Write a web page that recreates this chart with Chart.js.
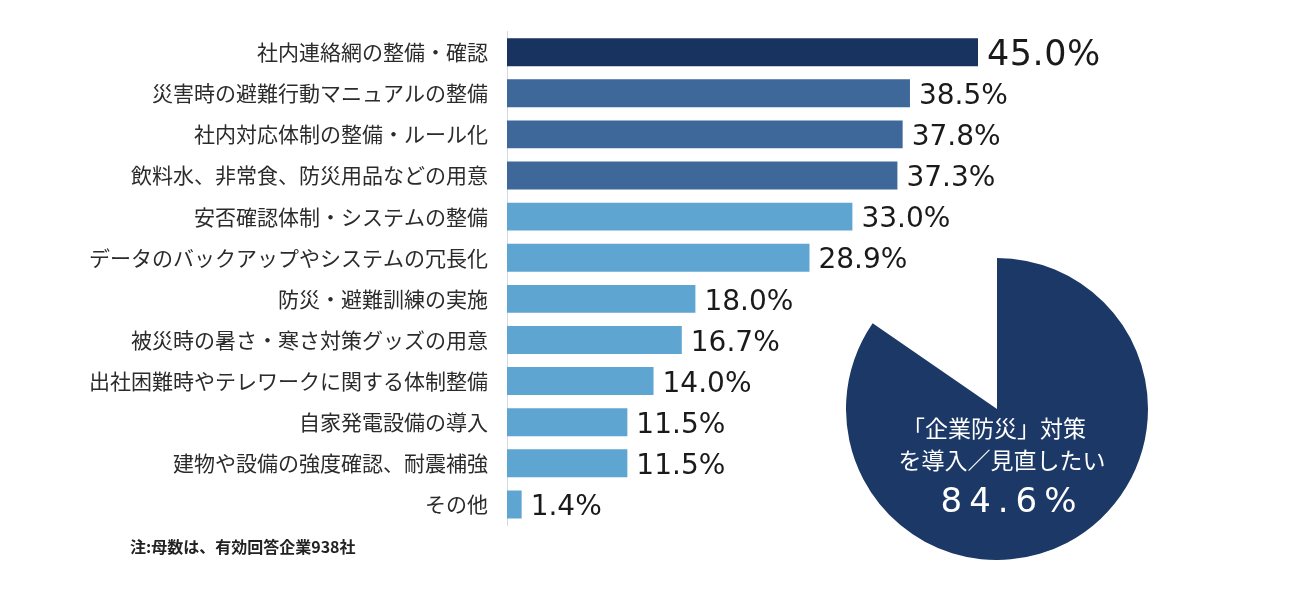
<!DOCTYPE html>
<html><head><meta charset="utf-8">
<script src="https://cdn.jsdelivr.net/npm/chart.js@4/dist/chart.umd.min.js"></script>
<style>
html,body{margin:0;padding:0;background:#fff;}
#wrap{position:relative;width:1300px;height:616px;overflow:hidden;}
#bar{position:absolute;left:0;top:0;}
#pie{position:absolute;left:846px;top:258px;}
</style>
</head><body>
<div id="wrap"><canvas id="bar" width="1300" height="616"></canvas><canvas id="pie" width="302" height="302"></canvas></div>
<script>
const categories = [
  '社内連絡網の整備・確認',
  '災害時の避難行動マニュアルの整備',
  '社内対応体制の整備・ルール化',
  '飲料水、非常食、防災用品などの用意',
  '安否確認体制・システムの整備',
  'データのバックアップやシステムの冗長化',
  '防災・避難訓練の実施',
  '被災時の暑さ・寒さ対策グッズの用意',
  '出社困難時やテレワークに関する体制整備',
  '自家発電設備の導入',
  '建物や設備の強度確認、耐震補強',
  'その他'
];
const values = [45.0, 38.5, 37.8, 37.3, 33.0, 28.9, 18.0, 16.7, 14.0, 11.5, 11.5, 1.4];
const valueLabels = ['45.0%', '38.5%', '37.8%', '37.3%', '33.0%', '28.9%', '18.0%', '16.7%', '14.0%', '11.5%', '11.5%', '1.4%'];
const barColors = ['#18335f', '#3d6899', '#3d6899', '#3d6899', '#5fa5d1', '#5fa5d1', '#5fa5d1', '#5fa5d1', '#5fa5d1', '#5fa5d1', '#5fa5d1', '#5fa5d1'];
const pieValues = [84.6, 15.4];
const pieColors = ['#1b3866', 'rgba(0,0,0,0)'];
const pieLines = ['「企業防災」対策', 'を導入／見直したい', '84.6%'];
const note = '注:母数は、有効回答企業938社';

const CJK = "'Noto Sans CJK JP', 'Noto Sans', sans-serif";
const NUM = "'DejaVu Sans', 'Noto Sans', sans-serif";
Chart.defaults.font.family = CJK;

const valuePlugin = {
  id: 'vals',
  afterDatasetsDraw(chart) {
    const ctx = chart.ctx;
    const meta = chart.getDatasetMeta(0);
    meta.data.forEach((bar, i) => {
      ctx.save();
      const big = i === 0;
      const size = big ? 35 : 28;
      ctx.font = size + "px " + NUM;
      ctx.letterSpacing = big ? '0.5px' : '0px';
      ctx.fillStyle = '#1a1a1a';
      ctx.textAlign = 'left';
      ctx.textBaseline = 'alphabetic';
      ctx.fillText(valueLabels[i], bar.x + 9, bar.y + 0.365 * size + 0.5);
      ctx.restore();
    });
    ctx.save();
    ctx.font = "bold 16px " + CJK;
    ctx.fillStyle = '#222';
    ctx.textAlign = 'left';
    ctx.textBaseline = 'middle';
    ctx.fillText(note, 130, 547);
    ctx.restore();
  }
};

new Chart(document.getElementById('bar'), {
  type: 'bar',
  data: {
    labels: categories,
    datasets: [{
      data: values,
      backgroundColor: barColors,
      borderWidth: 0,
      barPercentage: 0.68,
      categoryPercentage: 1.0
    }]
  },
  options: {
    indexAxis: 'y',
    responsive: false,
    animation: false,
    events: [],
    layout: { padding: { top: 27, bottom: 91, right: 165, left: 0 } },
    plugins: { legend: { display: false }, tooltip: { enabled: false } },
    scales: {
      x: { display: false, min: 0, max: 60 },
      y: {
        grid: { display: false, drawTicks: false },
        border: { display: true, color: '#d3dae2', width: 1 },
        ticks: { font: { size: 21, family: CJK }, color: '#2b2b2b', padding: 19 },
        afterFit(s) { s.width = 507; }
      }
    }
  },
  plugins: [valuePlugin]
});

const pieTextPlugin = {
  id: 'pieText',
  afterDraw(chart) {
    const arc = chart.getDatasetMeta(0).data[0];
    const cx = arc.x, cy = arc.y;
    const ctx = chart.ctx;
    ctx.save();
    ctx.fillStyle = '#ffffff';
    ctx.textAlign = 'center';
    ctx.textBaseline = 'middle';
    ctx.font = "23px " + CJK;
    ctx.fillText(pieLines[0], cx - 3, cy + 19);
    ctx.fillText(pieLines[1], cx + 5, cy + 51);
    ctx.font = "34px " + NUM;
    ctx.letterSpacing = '7px';
    ctx.textBaseline = 'alphabetic';
    ctx.fillText(pieLines[2], cx + 11.5 + 3.5, cy + 103);
    ctx.restore();
  }
};

new Chart(document.getElementById('pie'), {
  type: 'pie',
  data: {
    labels: ['導入／見直したい', 'その他'],
    datasets: [{ data: pieValues, backgroundColor: pieColors, borderWidth: 0, hoverOffset: 0, offset: 0 }]
  },
  options: {
    responsive: false,
    animation: false,
    events: [],
    layout: { padding: 0 },
    plugins: { legend: { display: false }, tooltip: { enabled: false } }
  },
  plugins: [pieTextPlugin]
});
</script>
</body></html>
